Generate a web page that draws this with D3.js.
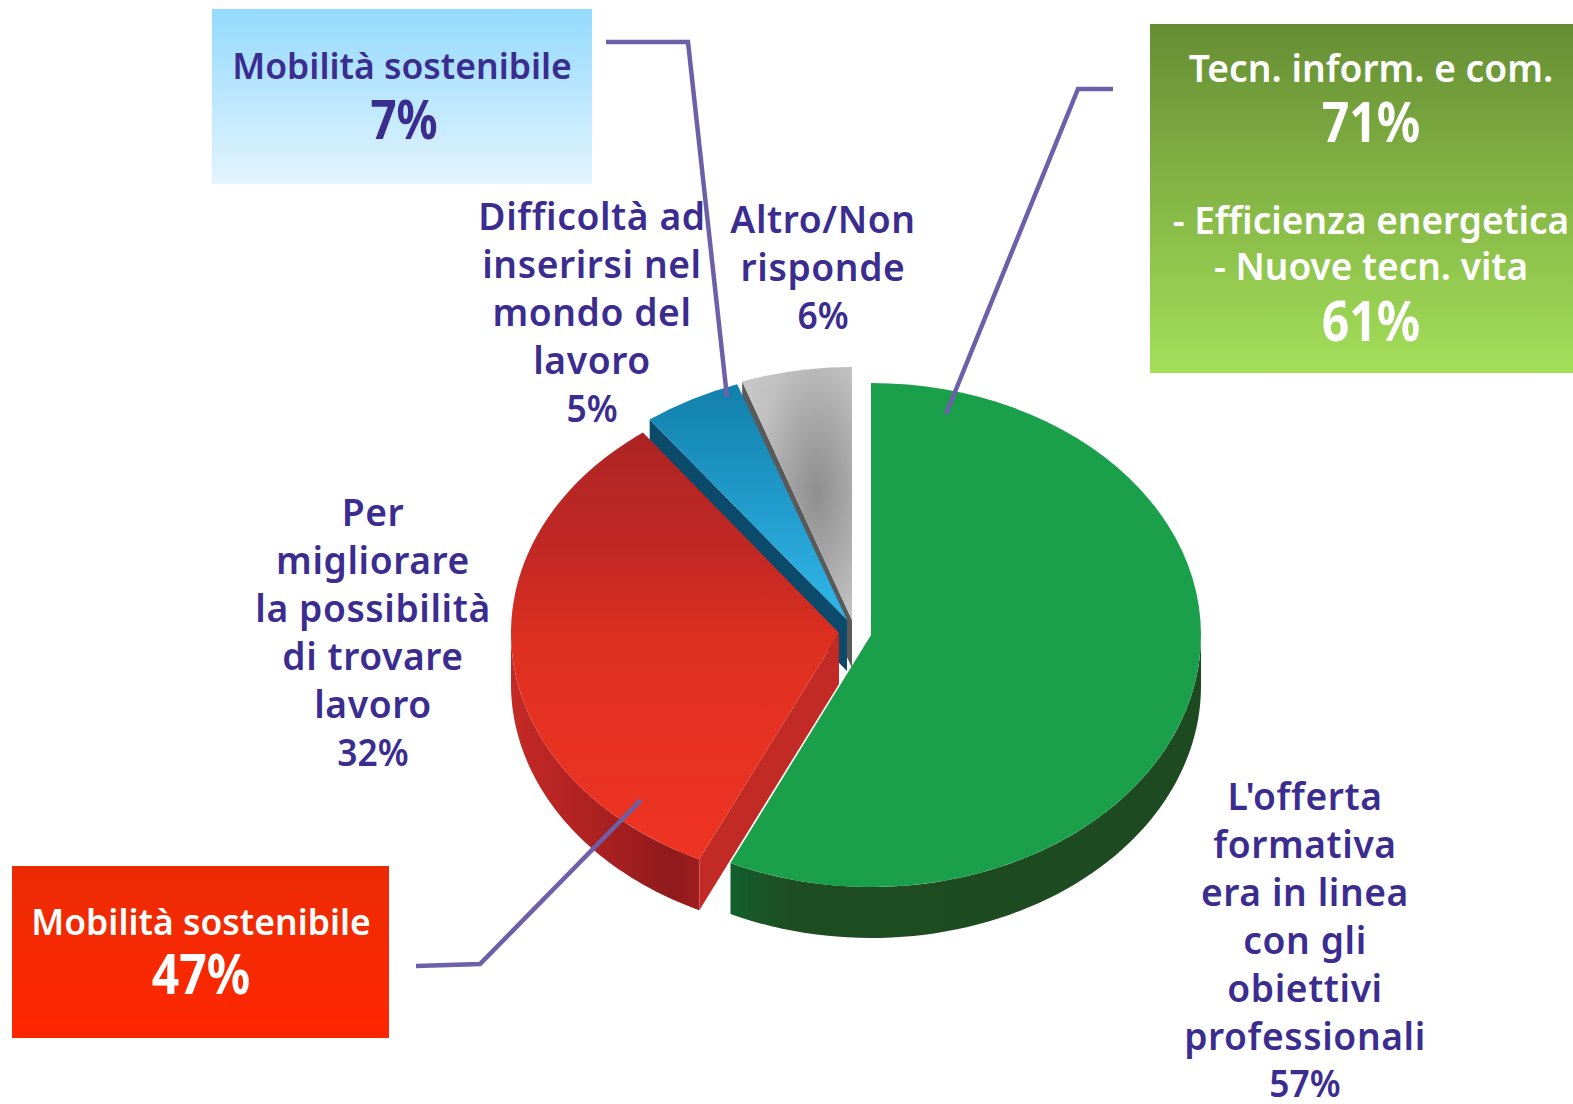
<!DOCTYPE html>
<html><head><meta charset="utf-8">
<script src="https://cdnjs.cloudflare.com/ajax/libs/d3/7.8.5/d3.min.js"></script>
<style>html,body{margin:0;padding:0;background:#fff}svg{display:block}text{font-family:"Noto Sans",sans-serif;text-anchor:middle}</style>
</head><body><div id="c"></div>
<script>
const sliceNames = ["offerta","lavoro","difficolta","altro"];
const sliceShares = [57,32.8,4.8,5.4];
const labelLines = [
 ["L'offerta","formativa","era in linea","con gli","obiettivi","professionali","57%"],
 ["Per","migliorare","la possibilità","di trovare","lavoro","32%"],
 ["Difficoltà ad","inserirsi nel","mondo del","lavoro","5%"],
 ["Altro/Non","risponde","6%"]
];
const labelX = [1305,373,592,823];
const labelY = [810,526,230,233];
const apexX = [871,839,847,852];
const apexY = [635,633,620,620];
const radX = [330,328,330,330];
const radY = [252,250,250,253];
const depth = [51,51,51,48];
const W=1573,H=1104;
const svg=d3.select("#c").append("svg").attr("width",W).attr("height",H).attr("viewBox",`0 0 ${W} ${H}`);
const defs=svg.append("defs");
function lin(id,stops,o){const g=defs.append("linearGradient").attr("id",id);
 Object.entries(o||{x1:0,y1:0,x2:0,y2:1}).forEach(([k,v])=>g.attr(k,v));
 stops.forEach(s=>g.append("stop").attr("offset",s[0]).attr("stop-color",s[1]));}
lin("gBoxB",[[0,"#94dafe"],[1,"#e2f4fe"]]);
lin("gBoxG",[[0,"#668e33"],[1,"#a4df59"]]);
lin("gBoxR",[[0,"#ec2b03"],[1,"#ff2700"]]);
lin("gRed",[[0,"#ad2424"],[.3,"#c42924"],[.5,"#df3020"],[1,"#ef3423"]]);
lin("gBlue",[[0,"#1280ac"],[1,"#30b6ea"]]);
lin("gRedW",[[0,"#c42a25"],[.45,"#ad2121"],[.85,"#8f1a1c"],[1,"#a01e1e"]],{x1:0,y1:0,x2:1,y2:0});
lin("gGreenW",[[0,"#12602c"],[.12,"#1f4d22"],[1,"#1d4a20"]],{x1:0,y1:0,x2:1,y2:0});
const rg=defs.append("radialGradient").attr("id","gGrey")
 .attr("cx",.68).attr("cy",.49).attr("r",.85);
[[0,"#8e8e8e"],[.35,"#a8a8a8"],[.65,"#c0c0c0"],[1,"#cacaca"]].forEach(s=>rg.append("stop").attr("offset",s[0]).attr("stop-color",s[1]));

const topFill=["#1a9f4b","url(#gRed)","url(#gBlue)","url(#gGrey)"];
const wallFill=["url(#gGreenW)","url(#gRedW)","#0c4a6a","#5c5c5c"];
const cutFill=["#1d4a20","#c22a25","#0b4a6a","#5a5a5a"];

const arcs=d3.pie().sort(null).startAngle(0).endAngle(2*Math.PI)(sliceShares);
const unit=100, arc=d3.arc().innerRadius(0).outerRadius(unit);
const line=d3.line();
const rim=(i,a,dy=0)=>[apexX[i]+radX[i]*Math.sin(a),apexY[i]-radY[i]*Math.cos(a)+dy];
// paint back to front so nearer slices overlap
[3,2,1,0].forEach(i=>{
 const d=arcs[i],g=svg.append("g");
 const lo=Math.max(d.startAngle,Math.PI/2),hi=Math.min(d.endAngle,3*Math.PI/2);
 if(hi>lo){
  const t=d3.range(0,61).map(k=>lo+(hi-lo)*k/60);
  const pts=t.map(a=>rim(i,a)).concat(t.slice().reverse().map(a=>rim(i,a,depth[i])));
  g.append("path").attr("d",line(pts)+"Z").attr("fill",wallFill[i]);
 }
 // the cut face at the start of each slice looks toward the viewer
 const ap=[apexX[i],apexY[i]];
 if(i!==0){
  const r0=rim(i,d.startAngle),r1=rim(i,d.startAngle,depth[i]);
  g.append("path").attr("d",line([ap,r0,r1,[ap[0],ap[1]+depth[i]]])+"Z").attr("fill",cutFill[i]);
 }
 g.append("path").attr("d",arc(d))
  .attr("transform",`translate(${ap}) scale(${radX[i]/unit},${radY[i]/unit})`)
  .attr("fill",topFill[i]);
});
// Percent figures are narrower than the installed face: condense them
const isPct=s=>/^\d+%$/.test(s);
function condense(sel,k){const n=sel.node();const w=n.getComputedTextLength();
 sel.attr("textLength",w*k).attr("lengthAdjust","spacingAndGlyphs");}
// Labels
const ink="#3b2c8f", fs=37.2, lh=47.9;
sliceNames.forEach((n,i)=>{
 const t=svg.append("g").attr("class","label-"+n);
 labelLines[i].forEach((s,k)=>{
  const e=t.append("text").attr("x",labelX[i]).attr("y",labelY[i]+k*lh)
   .attr("font-size",fs).attr("font-weight",600).attr("fill",ink).text(s);
  if(isPct(s)) condense(e,.95); else e.attr("letter-spacing",.6);
 });
});
// Callouts
const boxes=[
 {x:212,y:9,w:380,h:175,fill:"url(#gBoxB)",ink:ink,cx:402,lines:[["Mobilità sostenibile",79,35.5,600],["7%",139,53,700,404]]},
 {x:1150,y:24,w:423,h:349,fill:"url(#gBoxG)",ink:"#fff",cx:1371,lines:[["Tecn. inform. e com.",82,37.2,600],["71%",142,56,700],["- Efficienza energetica",234,37,600],["- Nuove tecn. vita",280,37,600],["61%",341,56,700]]},
 {x:12,y:866,w:377,h:172,fill:"url(#gBoxR)",ink:"#fff",cx:201,lines:[["Mobilità sostenibile",935,35.5,600],["47%",994,56,700]]}
];
boxes.forEach(b=>{
 svg.append("rect").attr("x",b.x).attr("y",b.y).attr("width",b.w).attr("height",b.h).attr("fill",b.fill);
 b.lines.forEach(l=>{
  const e=svg.append("text").attr("x",l[4]||b.cx).attr("y",l[1]).attr("font-size",l[2]).attr("font-weight",l[3]).attr("fill",b.ink).text(l[0]);
  if(isPct(l[0])) condense(e,.86);
 });
});
const leaders=[[[606,42],[688,42],[727,397]],[[1113,89],[1078,89],[946,414]],[[416,966],[480,964],[641,800]]];
leaders.forEach(p=>svg.append("path").attr("d",line(p)).attr("fill","none").attr("stroke","#6d5fa8").attr("stroke-width",4.5));
</script></body></html>
